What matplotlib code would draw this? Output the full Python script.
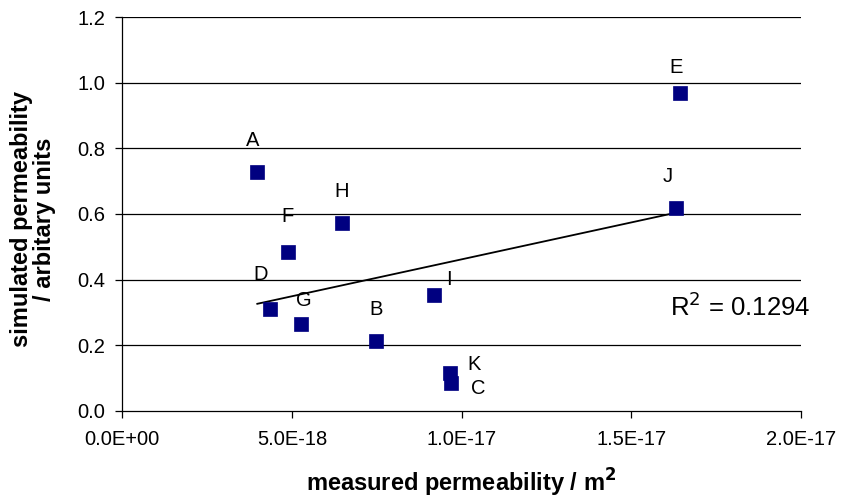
import numpy as np
import matplotlib
matplotlib.use("Agg")
import matplotlib.pyplot as plt
from matplotlib.ticker import FuncFormatter

plt.rcParams['font.family'] = ['Liberation Sans', 'DejaVu Sans']

labels = ['A', 'B', 'C', 'D', 'E', 'F', 'G', 'H', 'I', 'J', 'K']
measured = [3.98e-18, 7.48e-18, 9.70e-18, 4.36e-18, 16.43e-18, 4.89e-18,
            5.26e-18, 6.48e-18, 9.18e-18, 16.32e-18, 9.65e-18]
simulated = [0.727, 0.212, 0.084, 0.309, 0.970, 0.485,
             0.264, 0.573, 0.353, 0.618, 0.114]
r2_text = "R$^2$ = 0.1294"
x_ticks = [0.0, 5e-18, 1e-17, 1.5e-17, 2e-17]
x_ticklabels = ['0.0E+00', '5.0E-18', '1.0E-17', '1.5E-17', '2.0E-17']
y_ticks = [0.0, 0.2, 0.4, 0.6, 0.8, 1.0, 1.2]

# label offsets in pixels (dx, dy up)
label_offsets = {'A': (-5, 32), 'B': (0, 32), 'C': (27, -5), 'D': (-10, 35),
                 'E': (-4, 25), 'F': (-1, 35), 'G': (3, 24), 'H': (0, 31),
                 'I': (15, 15), 'J': (-8, 31), 'K': (24, 9)}

W, H = 841, 499
fig = plt.figure(figsize=(W / 100, H / 100), dpi=100)
L, R, T, B = 122.3, 800.7, 17.1, 410.7
ax = fig.add_axes([L / W, 1 - B / H, (R - L) / W, (B - T) / H])

ax.set_xlim(0, 2e-17)
ax.set_ylim(0, 1.2)
ax.set_yticks(y_ticks)
ax.yaxis.set_major_formatter(FuncFormatter(lambda v, p: f"{v:.1f}"))
ax.set_xticks(x_ticks)
ax.set_xticklabels(x_ticklabels)

for yv in y_ticks[1:]:
    ax.axhline(yv, color='#000000', lw=0.9, zorder=1)

for s in ['top', 'right']:
    ax.spines[s].set_visible(False)
for s in ['left', 'bottom']:
    ax.spines[s].set_color('#000000')
    ax.spines[s].set_linewidth(0.9)

ax.tick_params(axis='both', direction='out', length=5, width=0.9,
               labelsize=14.5, colors='#000000')
ax.tick_params(axis='y', pad=7.5)
ax.tick_params(axis='x', pad=9)

x = np.array(measured)
y = np.array(simulated)
m, b = np.polyfit(x, y, 1)
xl = np.array([x.min(), x.max()])
ax.plot(xl, m * xl + b, color='#000000', lw=1.3, zorder=3)

ax.plot(x, y, linestyle='none', marker='s', markersize=10.5,
        markerfacecolor='#000080', markeredgecolor='#000080',
        markeredgewidth=0.5, zorder=4)

for lab, xi, yi in zip(labels, measured, simulated):
    dx, dy = label_offsets[lab]
    ax.annotate(lab, (xi, yi), xytext=(dx * 0.72, dy * 0.72),
                textcoords='offset points', ha='center', va='center',
                fontsize=14.5, color='#000000', zorder=5)

ax.text((740 - L) / (R - L), (B - 307) / (B - T), r2_text,
        transform=ax.transAxes, fontsize=18.5, ha='center', va='center',
        color='#000000')

ax.set_xlabel('measured permeability / m$^\\mathbf{2}$', fontsize=17,
              fontweight='bold', va='baseline')
ax.xaxis.set_label_coords(0.5, (B - 491.7) / (B - T))
ax.set_ylabel('simulated permeability\n/ arbitary units', fontsize=17,
              fontweight='bold', linespacing=0.95, va='center')
ax.yaxis.set_label_coords((33 - L) / (R - L), (B - 219) / (B - T))

fig.savefig('out.png', dpi=100)
